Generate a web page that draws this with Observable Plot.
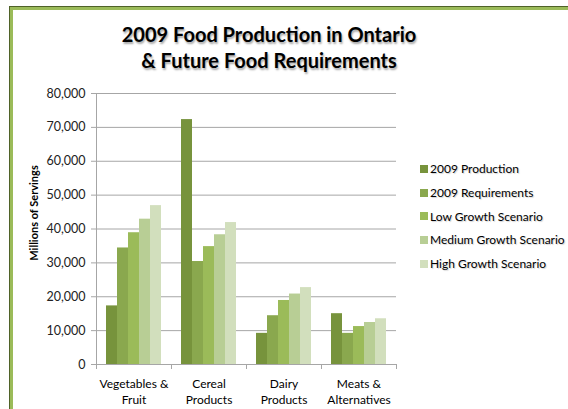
<!DOCTYPE html>
<html>
<head>
<meta charset="utf-8">
<script src="https://cdn.jsdelivr.net/npm/d3@7"></script>
<script src="https://cdn.jsdelivr.net/npm/@observablehq/plot@0.6"></script>
<style>
  html, body { margin: 0; padding: 0; background: #fff; }
  #wrap { position: relative; width: 568px; height: 409px; overflow: hidden; font-family: Lato, "Open Sans", sans-serif; }
  #border { position: absolute; left: 10px; top: 7px; right: -5px; bottom: -5px; border-left: 3px solid #9bbb59; border-top: 3px solid #9bbb59; box-shadow: -1px -1px 0 #4f6228; }
  #title { position: absolute; left: 0; top: 21px; width: 538px; text-align: center; font-weight: bold; font-size: 20px; line-height: 26px; color: #000; text-shadow: 1px 2px 2px rgba(0,0,0,0.35); }
  #ytitle { position: absolute; left: 33px; top: 213px; transform: translate(-50%, -50%) rotate(-90deg); white-space: nowrap; font-weight: bold; font-size: 11px; color: #000; }
  #legend { position: absolute; left: 420px; top: 157px; font-size: 12px; color: #000; }
  .li { display: flex; align-items: center; height: 23.7px; white-space: nowrap; text-shadow: 1px 1px 1px rgba(0,0,0,0.18); }
  .sw { width: 8px; height: 8px; margin-right: 2px; }
  #chart { position: absolute; left: 0; top: 0; }
  #chart text { font-family: Lato, "Open Sans", sans-serif; }
</style>
</head>
<body>
<div id="wrap">
  <div id="border"></div>
  <div id="chart"></div>
  <div id="title">2009 Food Production in Ontario<br>&amp; Future Food Requirements</div>
  <div id="ytitle">Millions of Servings</div>
  <div id="legend"></div>
</div>
<script>
const categories = ["Vegetables & Fruit", "Cereal Products", "Dairy Products", "Meats & Alternatives"];
const categoryLabels = ["Vegetables &\nFruit", "Cereal\nProducts", "Dairy\nProducts", "Meats &\nAlternatives"];
const series = ["2009 Production", "2009 Requirements", "Low Growth Scenario", "Medium Growth Scenario", "High Growth Scenario"];
const colors = ["#77933c", "#8aa84e", "#9bbb59", "#b8ce95", "#d2dfbd"];
const production2009 = [17300, 72300, 9200, 15000];
const requirements2009 = [34400, 30400, 14400, 9200];
const lowGrowth = [38900, 34800, 18900, 11200];
const mediumGrowth = [42900, 38300, 20800, 12400];
const highGrowth = [46900, 41900, 22700, 13500];
const yTicks = [0, 10000, 20000, 30000, 40000, 50000, 60000, 70000, 80000];

const seriesValues = [production2009, requirements2009, lowGrowth, mediumGrowth, highGrowth];
const data = [];
categories.forEach((c, i) => series.forEach((s, j) => data.push({category: c, series: s, value: seriesValues[j][i]})));
const labelOf = new Map(categories.map((c, i) => [c, categoryLabels[i]]));

const gray = "#a6a6a6";
const W = 568, H = 409, mL = 96, mR = 172;
const band = (W - mL - mR) / categories.length;

const chart = Plot.plot({
  width: W, height: H,
  marginLeft: mL, marginRight: mR, marginTop: 93, marginBottom: 45,
  style: {fontFamily: "Lato, 'Open Sans', sans-serif", fontSize: "12px", color: "#000", background: "transparent"},
  fx: {domain: categories, padding: 0, label: null},
  x: {domain: series, paddingInner: 0, paddingOuter: 0.79, axis: null},
  y: {domain: [0, 80000], label: null},
  color: {domain: series, range: colors},
  marks: [
    Plot.gridY(yTicks, {stroke: gray, strokeOpacity: 1}),
    Plot.barY(data, {fx: "category", x: "series", y: "value", fill: "series"}),
    Plot.ruleY([0], {stroke: gray}),
    Plot.frame({anchor: "left", facetAnchor: "left", stroke: gray}),
    Plot.axisY({ticks: yTicks, tickFormat: d3.format(","), tickSize: 5, tickPadding: 6, stroke: gray, fill: "#222", fontSize: 12.5, label: null}),
    Plot.axisFx({anchor: "bottom", tickSize: 0, tickPadding: 12, tickFormat: (d) => labelOf.get(d), fill: "#000", fontSize: 12, lineHeight: 1.35, label: null}),
    Plot.axisFx({anchor: "bottom", tickSize: 5, text: null, dx: -band / 2, stroke: gray, label: null}),
    Plot.axisFx({anchor: "bottom", ticks: [categories[categories.length - 1]], tickSize: 5, text: null, dx: band / 2, stroke: gray, label: null})
  ]
});
document.getElementById("chart").appendChild(chart);

const legend = document.getElementById("legend");
series.forEach((s, i) => {
  const row = document.createElement("div");
  row.className = "li";
  const sw = document.createElement("div");
  sw.className = "sw";
  sw.style.background = colors[i];
  row.appendChild(sw);
  row.appendChild(document.createTextNode(s));
  legend.appendChild(row);
});
</script>
</body>
</html>
